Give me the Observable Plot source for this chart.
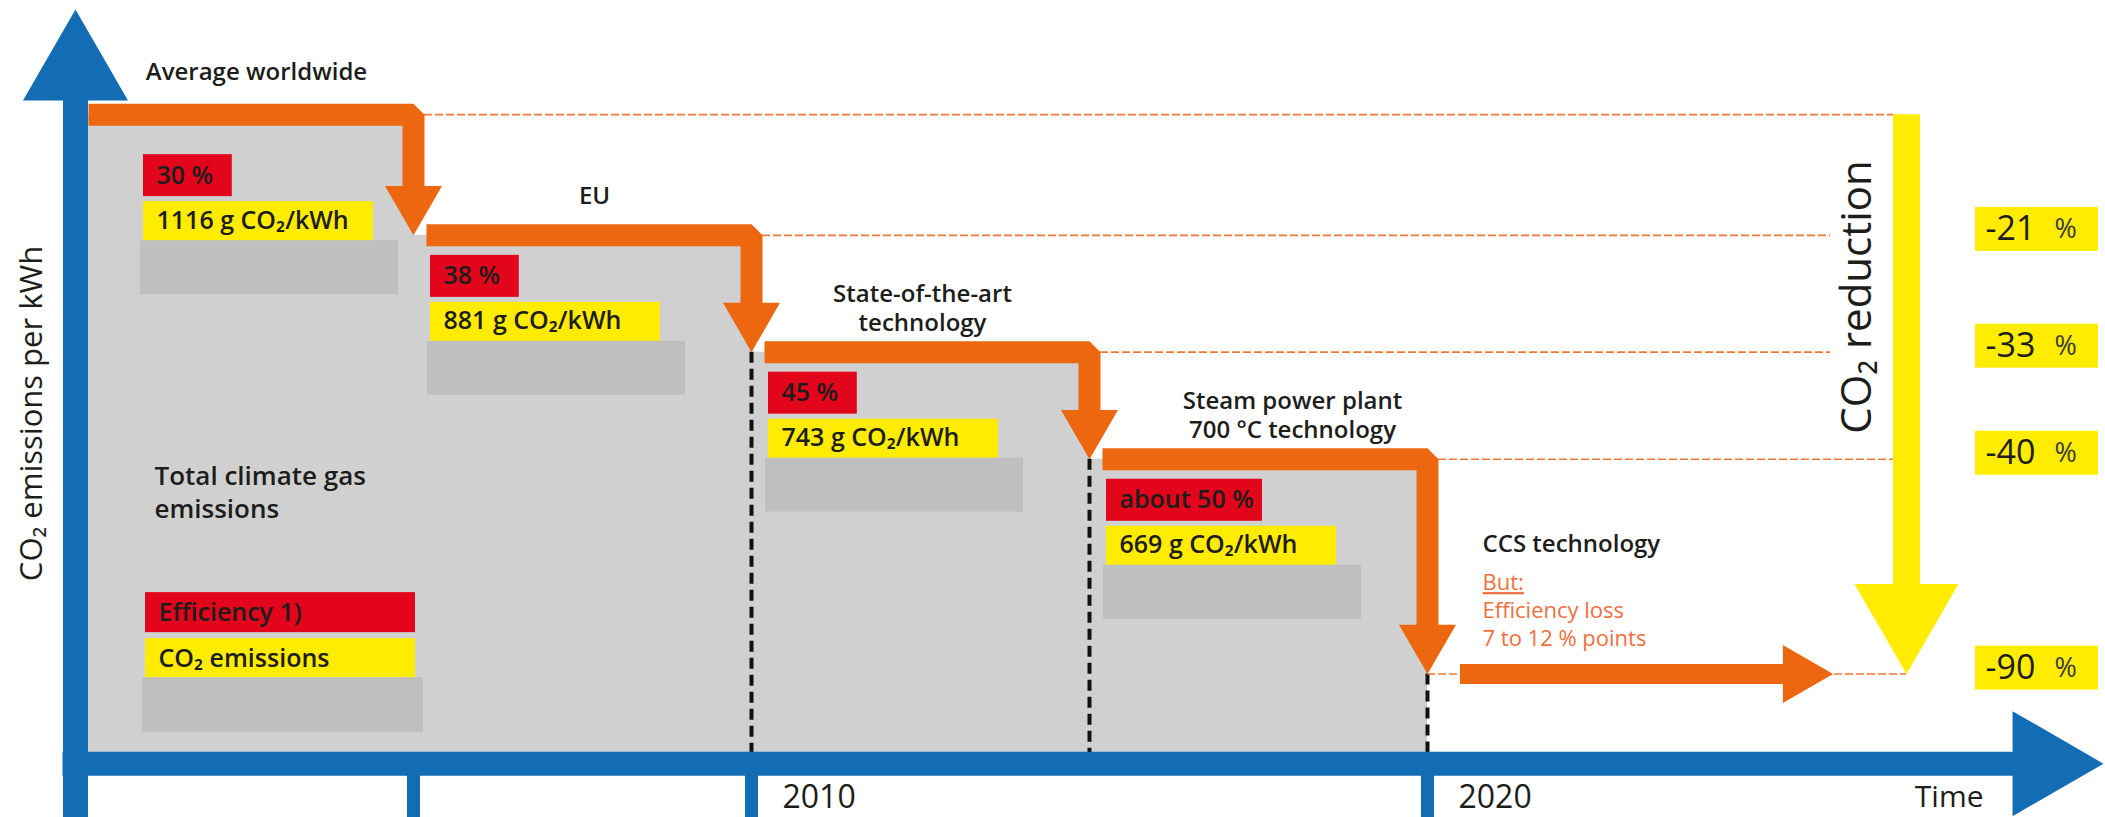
<!DOCTYPE html>
<html>
<head>
<meta charset="utf-8">
<script src="https://cdn.jsdelivr.net/npm/d3@7"></script>
<script src="https://cdn.jsdelivr.net/npm/@observablehq/plot@0.6"></script>
<style>
  html, body { margin: 0; padding: 0; background: #fff; }
  #chart svg { display: block; }
</style>
</head>
<body>
<div id="chart"></div>
<script>
// ---------------- data ----------------
const stepNames = ["Average worldwide", "EU", "State-of-the-art\ntechnology", "Steam power plant\n700 °C technology", "CCS technology"];
const efficiency = ["30 %", "38 %", "45 %", "about 50 %"];
const emissions = [1116, 881, 743, 669];            // g CO2/kWh
const reductionLabels = ["-21", "-33", "-40", "-90"]; // % vs. worldwide average
const periodStart = [2000, 2005, 2010, 2015, 2020];
const periodEnd = [2005, 2010, 2015, 2020, 2026];
const stepLevel = [100, 81.4, 63.4, 46.9, 13.8];    // schematic height of each step (worldwide average = 100)
const tickYears = [2005, 2010, 2020];
const tickLabels = [2010, 2020];
const legendLabels = ["Efficiency 1)", "CO₂ emissions"];
const ccsNote = ["But:", "Efficiency loss", "7 to 12 % points"];

// ---------------- layout & style ----------------
const W = 2105, H = 817;
const mL = 75, mR = 2, mT = 9, mB = 0;
const xDomain = [2000, 2030];
const yDomain = [-8.3, 116.2];
const kx = (W - mL - mR) / (xDomain[1] - xDomain[0]);
const ky = (H - mT - mB) / (yDomain[1] - yDomain[0]);
const px = p => p / kx;   // pixels -> years
const py = p => p / ky;   // pixels -> level units
const TRI = 0.3713;       // radius factor of an equilateral triangle of side s
const tipOff = s => s / Math.sqrt(3);

const BLUE = "#136db5", ORANGE = "#ec670f", ORANGE_LT = "#f0783a", ORANGE_TXT = "#f26f3d",
      YELLOW = "#ffec00", RED = "#e3051b", GRAY = "#d0d0d1", GRAY_BOX = "#bfbfbf", INK = "#1d1d1b";
const FONT = "'Open Sans', 'Noto Sans', sans-serif";
const BOX_FS = 25;

// ---------------- derived tables ----------------
const steps = stepNames.map((name, i) => ({
  i, name, start: periodStart[i], end: periodEnd[i], level: stepLevel[i], next: stepLevel[i + 1]
}));
const main = steps.slice(0, 4);

const boxes = main.map(d => {
  const inset = d.i === 0 ? 68 : 17;
  const drop = d.i === 0 ? 40 : 20;
  const x0 = d.start + px(inset);
  const top = d.level - py(drop);
  return { x0, top, eff: efficiency[d.i], co2: `${emissions[d.i]} g CO₂/kWh` };
});

const legend = [{ x0: 2000 + px(70), top: py(171) }];

const stepPath = main.flatMap(d => [
  { i: d.i, x: d.start + px(13), y: d.level },
  { i: d.i, x: d.end, y: d.level },
  { i: d.i, x: d.end, y: d.next + py(45) }
]);

const reductionX = xDomain[1] - px(197);
const guides = steps.map(d => ({
  y: d.level,
  x1: d.i < 4 ? d.end + px(11) : d.start,
  x2: (d.i === 1 || d.i === 2) ? reductionX - px(76) : (d.i === 4 ? reductionX : reductionX - px(13))
}));

const reductions = reductionLabels.map((t, k) => ({ t, level: stepLevel[k + 1] }));
const ccs = steps[4];
const labelX = d => (d.start + d.end) / 2 + px(d.i === 3 ? 34 : (d.i === 2 ? 2 : 12));

const chart = Plot.plot({
  width: W, height: H,
  marginLeft: mL, marginRight: mR, marginTop: mT, marginBottom: mB,
  x: { domain: xDomain, axis: null },
  y: { domain: yDomain, axis: null },
  style: { fontFamily: FONT, background: "#fff", overflow: "visible" },
  marks: [
    // gray emission columns
    Plot.rect(main, { x1: "start", x2: "end", y1: 0, y2: "level", fill: GRAY }),

    // placeholder / yellow / red boxes of every step
    Plot.rect(boxes, { x1: d => d.x0 - px(3), x2: d => d.x0 + px(255), y1: d => d.top - py(86), y2: d => d.top - py(140), fill: GRAY_BOX }),
    Plot.rect(boxes, { x1: "x0", x2: d => d.x0 + px(230), y1: d => d.top - py(47), y2: d => d.top - py(86), fill: YELLOW }),
    Plot.rect(boxes, { x1: "x0", x2: d => d.x0 + px(44 + 11.2 * d.eff.length), y1: "top", y2: d => d.top - py(42), fill: RED }),
    Plot.text(boxes, { x: "x0", y: d => d.top - py(21), text: "eff", dx: 13, textAnchor: "start", fontSize: BOX_FS, fontWeight: 600, fill: INK }),
    Plot.text(boxes, { x: "x0", y: d => d.top - py(66), text: "co2", dx: 13, textAnchor: "start", fontSize: BOX_FS, fontWeight: 600, fill: INK }),

    // legend boxes
    Plot.rect(legend, { x1: d => d.x0 - px(3), x2: d => d.x0 + px(278), y1: py(86), y2: py(31), fill: GRAY_BOX }),
    Plot.rect(legend, { x1: "x0", x2: d => d.x0 + px(270), y1: py(125), y2: py(86), fill: YELLOW }),
    Plot.rect(legend, { x1: "x0", x2: d => d.x0 + px(270), y1: "top", y2: d => d.top - py(40), fill: RED }),
    Plot.text(legend, { x: "x0", y: d => d.top - py(20), text: () => legendLabels[0], dx: 13, textAnchor: "start", fontSize: BOX_FS, fontWeight: 600, fill: INK }),
    Plot.text(legend, { x: "x0", y: py(105), text: () => legendLabels[1], dx: 13, textAnchor: "start", fontSize: BOX_FS, fontWeight: 600, fill: INK }),

    // black dashed year separators
    Plot.ruleX(main.filter(d => d.i > 0), { x: "end", y1: "next", y2: 0, stroke: "#111", strokeWidth: 4, strokeDasharray: "11,6" }),

    // orange dashed reference lines
    Plot.ruleY(guides, { y: "y", x1: "x1", x2: "x2", stroke: ORANGE_LT, strokeWidth: 1.6, strokeDasharray: "8,3" }),

    // orange step arrows
    Plot.line(stepPath, { x: "x", y: "y", z: "i", stroke: ORANGE, strokeWidth: 22, strokeLinejoin: "miter", strokeLinecap: "butt" }),
    Plot.dot(main, { x: "end", y: "next", symbol: "triangle", r: 57 * TRI, rotate: 180, dy: -tipOff(57), fill: ORANGE, stroke: "none" }),

    // CCS arrow
    Plot.ruleY([ccs], { y: "level", x1: d => d.start + px(33), x2: d => d.end - px(45), stroke: ORANGE, strokeWidth: 20 }),
    Plot.dot([ccs], { x: "end", y: "level", symbol: "triangle", r: 58 * TRI, rotate: 90, dx: -tipOff(58), fill: ORANGE, stroke: "none" }),

    // yellow CO2 reduction arrow
    Plot.ruleX([{ x: reductionX, y1: stepLevel[0], y2: stepLevel[4] + py(80) }], { x: "x", y1: "y1", y2: "y2", stroke: YELLOW, strokeWidth: 27 }),
    Plot.dot([{ x: reductionX, y: stepLevel[4] }], { x: "x", y: "y", symbol: "triangle", r: 104 * TRI, rotate: 180, dy: -tipOff(104), fill: YELLOW, stroke: "none" }),
    Plot.text([{ x: reductionX, y: (stepLevel[0] + stepLevel[3]) / 2 }], { x: "x", y: "y", text: () => "CO₂ reduction", rotate: -90, dx: -49, dy: 10, fontSize: 42, fill: INK }),

    // reduction percentages
    Plot.rect(reductions, { x1: xDomain[1] - px(128), x2: xDomain[1] - px(5), y1: d => d.level + py(6 + 22), y2: d => d.level + py(6 - 22), fill: YELLOW }),
    Plot.text(reductions, { x: xDomain[1] - px(118), y: "level", text: "t", dy: -6, textAnchor: "start", fontSize: 34, fill: INK }),
    Plot.text(reductions, { x: xDomain[1] - px(49), y: "level", text: () => "%", dy: -6, textAnchor: "start", fontSize: 27, fill: "#3a3a3a" }),

    // blue axes
    Plot.ruleX([{ x: 2000 }], { x: "x", y1: yDomain[0], y2: yDomain[1] - py(85), stroke: BLUE, strokeWidth: 25 }),
    Plot.dot([{ x: 2000, y: yDomain[1] }], { x: "x", y: "y", symbol: "triangle", r: 105 * TRI, dy: tipOff(105), fill: BLUE, stroke: "none" }),
    Plot.ruleY([{ y: 0 }], { y: "y", x1: 2000 - px(12.5), x2: xDomain[1] - px(80), stroke: BLUE, strokeWidth: 24 }),
    Plot.dot([{ x: xDomain[1], y: 0 }], { x: "x", y: "y", symbol: "triangle", r: 105 * TRI, rotate: 90, dx: -tipOff(105), fill: BLUE, stroke: "none" }),
    Plot.ruleX(tickYears, { x: d => d, y1: yDomain[0], y2: 0, stroke: BLUE, strokeWidth: 13 }),
    Plot.text(tickLabels, { x: d => d, y: yDomain[0], text: d => String(d), dx: 31, dy: -20, textAnchor: "start", lineAnchor: "middle", fontSize: 32, fontWeight: 500, fill: INK }),
    Plot.text(["Time"], { frameAnchor: "bottom-right", text: d => d, dx: -120, dy: -20, textAnchor: "end", lineAnchor: "middle", fontSize: 30, fontWeight: 500, fill: INK }),
    Plot.text(["CO₂ emissions per kWh"], { frameAnchor: "left", text: d => d, rotate: -90, dx: -43, textAnchor: "middle", lineAnchor: "middle", fontSize: 31, fill: INK }),

    // step labels
    Plot.text(main.filter(d => d.i === 0), { x: labelX, y: "level", text: "name", dy: -42, fontSize: 24, fontWeight: 600, fill: INK }),
    Plot.text(main.filter(d => d.i === 1), { x: labelX, y: "level", text: "name", dy: -39, fontSize: 24, fontWeight: 600, fill: INK }),
    Plot.text(main.filter(d => d.i > 1), { x: labelX, y: "level", text: "name", dy: -45, lineAnchor: "middle", lineHeight: 1.2, fontSize: 24, fontWeight: 600, fill: INK }),
    Plot.text([ccs], { x: "start", y: "level", text: "name", dx: 55, dy: -130, textAnchor: "start", fontSize: 24, fontWeight: 600, fill: INK }),
    Plot.text([ccs], { x: "start", y: "level", text: () => ccsNote.join("\n"), dx: 55, dy: -65, textAnchor: "start", lineHeight: 1.27, fontSize: 22, fontWeight: 500, fill: ORANGE_TXT }),
    Plot.text([{ x: 2000 }], { x: "x", y: py(273), text: () => "Total climate gas\nemissions", dx: 79, textAnchor: "start", lineHeight: 1.3, fontSize: 26, fontWeight: 600, fill: INK })
  ]
});

// underline "But:"
chart.querySelectorAll("tspan, text").forEach(el => {
  if (el.textContent === "But:") { el.setAttribute("text-decoration", "underline"); el.style.textDecoration = "underline"; }
});

document.getElementById("chart").appendChild(chart);
</script>
</body>
</html>
